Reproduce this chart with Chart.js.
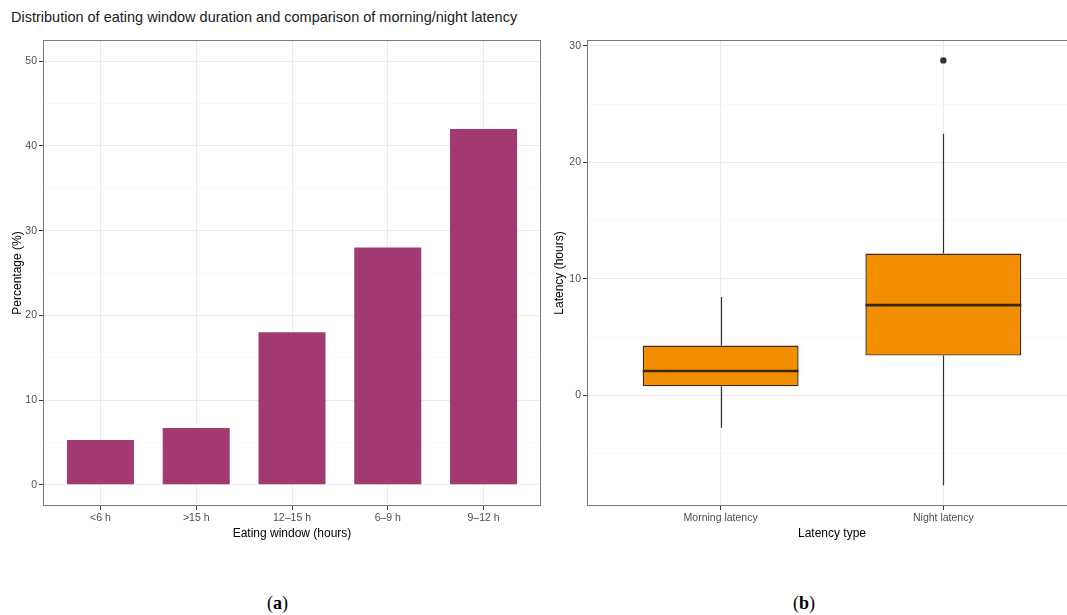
<!DOCTYPE html>
<html>
<head>
<meta charset="utf-8">
<title>Eating window and latency</title>
<script src="https://cdn.jsdelivr.net/npm/chart.js@4.4.1/dist/chart.umd.min.js"></script>
<style>
  html, body { margin: 0; padding: 0; background: #fff; overflow: hidden; }
  body { width: 1067px; height: 615px; position: relative; }
  #title { position: absolute; left: 11px; top: 9px; font: 14.5px "Liberation Sans", Arial, sans-serif; color: #1a1a1a; white-space: nowrap; }
  .cap { position: absolute; top: 593px; font: 18px "Liberation Serif", "DejaVu Serif", serif; color: #000; }
  canvas { position: absolute; top: 30px; }
</style>
</head>
<body>
<div id="title">Distribution of eating window duration and comparison of morning/night latency</div>
<canvas id="windowChart" width="548" height="520" style="left:0"></canvas>
<canvas id="latencyChart" width="540" height="520" style="left:545px"></canvas>
<div class="cap" style="left:267px">(<b>a</b>)</div>
<div class="cap" style="left:793px">(<b>b</b>)</div>

<script>
// panel (a): eating window
const windowLabels = ["<6 h", ">15 h", "12–15 h", "6–9 h", "9–12 h"];
const windowPercent = [5.3, 6.7, 18.0, 28.0, 42.0];
const percentTicks = [0, 5, 10, 15, 20, 25, 30, 35, 40, 45, 50];

// panel (b): latency box plots
const latencyTypes = ["Morning latency", "Night latency"];
const latencyLow = [-2.78, -7.71];
const latencyQ1 = [0.77, 3.41];
const latencyMedian = [2.09, 7.74];
const latencyQ3 = [4.27, 12.17];
const latencyHigh = [8.45, 22.45];
const latencyOutliers = [[], [28.75]];
const latencyTicks = [-5, 0, 5, 10, 15, 20, 25, 30];

Chart.defaults.font.family = '"Liberation Sans", Arial, sans-serif';
Chart.defaults.animation = false;

const isMajor = (ctx) => ctx.tick && ctx.tick.value % 10 === 0;

const panelBorder = {
  id: "panelBorder",
  afterDraw(chart) {
    const a = chart.chartArea;
    const c = chart.ctx;
    c.save();
    c.strokeStyle = "#7a7a7a";
    c.lineWidth = 1;
    c.strokeRect(Math.round(a.left) + 0.5, Math.round(a.top) + 0.5,
      Math.round(a.right - a.left) - 1, Math.round(a.bottom - a.top) - 1);
    c.restore();
  }
};

function valueAxis(min, max, ticks, title, width, titlePad) {
  return {
    type: "linear",
    min: min,
    max: max,
    afterBuildTicks: (s) => { s.ticks = ticks.map(v => ({ value: v })); },
    afterFit: (s) => { s.width = width; },
    border: { display: false },
    grid: {
      color: (ctx) => isMajor(ctx) ? "#EBEBEB" : "#F5F5F5",
      lineWidth: (ctx) => isMajor(ctx) ? 1 : 0.7,
      tickColor: (ctx) => isMajor(ctx) ? "#333333" : "rgba(0,0,0,0)",
      tickLength: 4
    },
    ticks: {
      color: "#4D4D4D",
      font: { size: 10.5 },
      padding: 2,
      callback: (v) => v % 10 === 0 ? v : ""
    },
    title: { display: true, text: title, color: "#000", font: { size: 12 }, padding: { top: titlePad, bottom: 0 } }
  };
}

function categoryAxis(labels, title) {
  return {
    type: "linear",
    offset: false,
    min: 0.4,
    max: labels.length + 0.6,
    afterBuildTicks: (s) => { s.ticks = labels.map((l, i) => ({ value: i + 1 })); },
    afterFit: (s) => { s.height = 44; },
    border: { display: false },
    grid: { offset: false, color: "#EBEBEB", tickColor: "#333333", tickLength: 4 },
    ticks: {
      color: "#4D4D4D",
      font: { size: 10.5 },
      padding: 2,
      maxRotation: 0,
      autoSkip: false,
      callback: (v) => labels[v - 1]
    },
    title: { display: true, text: title, color: "#000", font: { size: 12 }, padding: { top: 0, bottom: 9 } }
  };
}

new Chart(document.getElementById("windowChart"), {
  type: "bar",
  data: {
    datasets: [{
      data: windowLabels.map((l, i) => ({ x: i + 1, y: windowPercent[i] })),
      backgroundColor: "#A23A71",
      barPercentage: 0.7,
      categoryPercentage: 1
    }]
  },
  options: {
    responsive: false,
    layout: { padding: { left: 0, right: 7, top: 10, bottom: 0 } },
    plugins: { legend: { display: false }, tooltip: { enabled: false } },
    scales: {
      x: categoryAxis(windowLabels, "Eating window (hours)"),
      y: valueAxis(-2.5, 52.5, percentTicks, "Percentage (%)", 43, 10)
    }
  },
  plugins: [panelBorder]
});

// whiskers behind the boxes, medians on top
const boxParts = {
  id: "boxParts",
  beforeDatasetsDraw(chart) {
    const c = chart.ctx, x = chart.scales.x, y = chart.scales.y;
    c.save();
    c.strokeStyle = "#333333";
    c.lineWidth = 1.2;
    latencyTypes.forEach((t, i) => {
      const px = Math.round(x.getPixelForValue(i + 1)) + 0.5;
      c.beginPath();
      c.moveTo(px, y.getPixelForValue(latencyHigh[i]));
      c.lineTo(px, y.getPixelForValue(latencyQ3[i]));
      c.moveTo(px, y.getPixelForValue(latencyQ1[i]));
      c.lineTo(px, y.getPixelForValue(latencyLow[i]));
      c.stroke();
    });
    c.restore();
  },
  afterDatasetsDraw(chart) {
    const c = chart.ctx, y = chart.scales.y;
    const bars = chart.getDatasetMeta(0).data;
    c.save();
    c.strokeStyle = "#3B2A10";
    c.lineWidth = 2.6;
    latencyTypes.forEach((t, i) => {
      const b = bars[i];
      const py = y.getPixelForValue(latencyMedian[i]);
      c.beginPath();
      c.moveTo(b.x - b.width / 2, py);
      c.lineTo(b.x + b.width / 2, py);
      c.stroke();
    });
    c.restore();
  }
};

const outlierPoints = [];
latencyOutliers.forEach((list, i) => list.forEach(v => outlierPoints.push({ x: i + 1, y: v })));

new Chart(document.getElementById("latencyChart"), {
  type: "bar",
  data: {
    datasets: [{
      data: latencyTypes.map((t, i) => ({ x: i + 1, y: [latencyQ1[i], latencyQ3[i]] })),
      backgroundColor: "#F28E00",
      borderColor: "#3E2A12",
      borderWidth: 1.4,
      borderSkipped: false,
      barPercentage: 0.7,
      categoryPercentage: 1
    }, {
      type: "scatter",
      data: outlierPoints,
      pointRadius: 3.2,
      pointBackgroundColor: "#333333",
      pointBorderWidth: 0
    }]
  },
  options: {
    responsive: false,
    layout: { padding: { left: 0, right: 8, top: 10, bottom: 0 } },
    plugins: { legend: { display: false }, tooltip: { enabled: false } },
    scales: {
      x: categoryAxis(latencyTypes, "Latency type"),
      y: valueAxis(-9.5, 30.5, latencyTicks, "Latency (hours)", 42, 7)
    }
  },
  plugins: [panelBorder, boxParts]
});
</script>
</body>
</html>
